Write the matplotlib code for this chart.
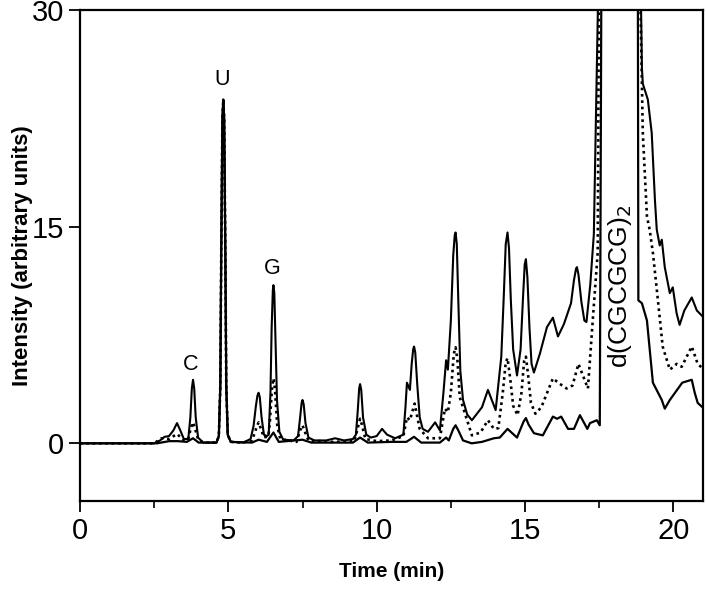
import numpy as np
import matplotlib
matplotlib.use("Agg")
import matplotlib.pyplot as plt
from matplotlib.ticker import MultipleLocator

nan = np.nan

# upper solid trace
t_upper = [0, 2.5, 2.7, 2.85, 3.0, 3.15, 3.27, 3.38, 3.5, 3.65, 3.72, 3.77, 3.81, 3.85, 3.9, 3.98,
           4.15, 4.6, 4.68, 4.73, 4.76, 4.8, 4.83, 4.86, 4.9, 4.93, 4.98, 5.08, 5.5, 5.75, 5.85,
           5.93, 5.98, 6.02, 6.06, 6.12, 6.2, 6.3, 6.36, 6.42, 6.46, 6.5, 6.52, 6.55, 6.59, 6.64,
           6.72, 6.85, 7.2, 7.35, 7.42, 7.47, 7.5, 7.54, 7.6, 7.7, 7.9, 8.3, 8.6, 8.9, 9.2, 9.3,
           9.36, 9.41, 9.44, 9.48, 9.54, 9.65, 9.8, 10.0, 10.18, 10.35, 10.62, 10.9, 10.97, 11.02,
           11.12, 11.18, 11.23, 11.26, 11.3, 11.37, 11.45, 11.55, 11.73, 11.97, 12.13, 12.25,
           12.34, 12.4, 12.5, 12.58, 12.63, 12.66, 12.7, 12.75, 12.82, 12.91, 13.05, 13.21, 13.55,
           13.75, 14.01, 14.2, 14.28, 14.35, 14.41, 14.46, 14.52, 14.6, 14.73, 14.85, 14.93, 14.99,
           15.03, 15.08, 15.15, 15.22, 15.3, 15.5, 15.74, 15.94, 16.11, 16.31, 16.55, 16.65, 16.72,
           16.75, 16.8, 16.9, 17.0, 17.07, 17.2, 17.32, 17.46, 17.5, nan,
           18.87, 18.94, 18.97, 19.14, 19.27, 19.38, 19.44, 19.54, 19.61, 19.71, 19.88, 19.98,
           20.11, 20.21, 20.37, 20.62, 20.79, 20.98]
i_upper = [0, 0, 0.2, 0.45, 0.5, 0.9, 1.4, 0.9, 0.3, 0.3, 1.8, 3.8, 4.4, 3.8, 1.8, 0.4,
           0.05, 0.05, 0.5, 4.0, 13.0, 22.5, 23.8, 22.5, 13.0, 4.0, 0.6, 0.1, 0.05, 0.3, 1.2,
           2.6, 3.3, 3.5, 3.2, 1.8, 0.6, 0.5, 0.6, 3.5, 8.0, 10.6, 10.95, 10.4, 7.0, 3.0,
           0.8, 0.25, 0.2, 0.5, 1.8, 2.8, 3.0, 2.7, 1.4, 0.4, 0.2, 0.2, 0.35, 0.2, 0.3, 0.6,
           2.2, 3.8, 4.1, 3.7, 1.8, 0.6, 0.4, 0.5, 1.0, 0.6, 0.35, 0.6, 2.5, 4.2,
           3.7, 5.5, 6.5, 6.7, 6.3, 4.0, 1.8, 1.0, 0.8, 1.45, 0.9, 3.5,
           5.75, 5.1, 8.5, 13.0, 14.4, 14.6, 13.8, 10.0, 5.0, 3.0, 2.0, 1.6, 2.5,
           3.7, 2.3, 6.0, 10.0, 13.8, 14.6, 13.5, 10.0, 6.5, 4.7, 6.5, 10.0, 12.4,
           12.75, 11.5, 8.0, 5.5, 4.9, 6.2, 8.05, 8.7, 7.4, 8.25, 9.7, 11.3, 12.1,
           12.2, 11.7, 9.8, 8.5, 8.4, 11.0, 14.5, 30.5, 36, nan,
           36, 26, 24.9, 23.8, 21.5, 16.8, 14.8, 13.7, 14.1, 12.2, 10.4, 10.8,
           9.0, 8.2, 9.2, 10.1, 9.2, 8.8]

# middle dotted trace
t_mid = [0, 2.5, 2.75, 3.0, 3.27, 3.5, 3.65, 3.74, 3.81, 3.88, 3.98, 4.15, 4.6, 4.68, 4.73,
         4.76, 4.8, 4.83, 4.86, 4.9, 4.93, 4.98, 5.08, 5.5, 5.8, 5.95, 6.02, 6.1, 6.2, 6.35,
         6.4, 6.47, 6.52, 6.57, 6.65, 6.75, 7.3, 7.42, 7.5, 7.58, 7.7, 8.5, 9.25, 9.38, 9.44,
         9.5, 9.62, 10.0, 10.5, 10.9, 11.02, 11.12, 11.28, 11.45, 11.73, 12.13, 12.3, 12.4,
         12.5, 12.6, 12.66, 12.72, 12.8, 13.21, 13.5, 13.75, 13.95, 14.1, 14.25, 14.35, 14.41,
         14.5, 14.6, 14.75, 14.88, 14.97, 15.03, 15.1, 15.2, 15.35, 15.55, 15.94, 16.15, 16.4,
         16.6, 16.8, 17.12, 17.3, 17.45, 17.5, nan,
         18.84, 18.97, 19.11, 19.2, 19.31, 19.48, 19.64, 19.88, 20.11, 20.28, 20.62, 20.82, 20.98]
i_mid = [0, 0, 0.35, 0.3, 0.65, 0.2, 0.3, 1.1, 1.45, 1.0, 0.3, 0.05, 0.05, 0.5, 4.0,
         13.0, 22.5, 23.8, 22.5, 13.0, 4.0, 0.6, 0.1, 0.05, 0.2, 1.1, 1.45, 1.0, 0.4, 0.5,
         1.5, 3.8, 4.5, 3.8, 1.2, 0.3, 0.1, 0.9, 1.25, 0.8, 0.2, 0.1, 0.15, 1.2, 1.7,
         1.3, 0.3, 0.15, 0.2, 0.5, 1.8, 1.6, 2.75, 1.0, 0.35, 0.35, 2.4, 2.15,
         3.5, 6.2, 6.65, 5.8, 3.2, 0.55, 0.75, 1.6, 1.0, 1.05, 3.5, 5.6, 5.9,
         4.5, 2.6, 1.95, 3.5, 5.7, 6.0, 4.8, 2.8, 2.05, 2.5, 4.5, 4.15, 3.8,
         4.0, 5.5, 3.8, 9.0, 13.2, 36, nan,
         36, 21.5, 15.7, 14.8, 13.2, 9.9, 6.7, 5.1, 5.5, 5.3, 6.7, 5.5, 5.2]

# lower solid trace
t_lower = [0, 2.6, 3.0, 3.3, 3.6, 3.81, 4.0, 4.6, 4.68, 4.73, 4.76, 4.8, 4.83, 4.86, 4.9,
           4.93, 4.98, 5.08, 5.8, 6.02, 6.3, 6.52, 6.7, 7.5, 7.8, 9.2, 9.44, 9.7, 10.5, 11.0,
           11.26, 11.5, 12.13, 12.34, 12.43, 12.58, 12.66, 12.75, 12.91, 13.2, 13.55, 13.95, 14.15,
           14.41, 14.73, 14.95, 15.03, 15.12, 15.3, 15.6, 15.94, 16.08, 16.22, 16.45, 16.65, 16.85,
           17.1, 17.19, 17.42, 17.52, 17.58, nan,
           18.8, 18.82, 18.94, 19.11, 19.31, 19.61, 19.71, 19.88, 20.3, 20.62, 20.72, 20.82, 20.98]
i_lower = [0, 0, 0.15, 0.15, 0.1, 0.35, 0.05, 0.05, 0.5, 4.0, 13.0, 22.5, 23.8, 22.5, 13.0,
           4.0, 0.6, 0.1, 0.05, 0.25, 0.1, 0.75, 0.1, 0.25, 0.05, 0.05, 0.4, 0.05, 0.1, 0.1,
           0.45, 0.05, 0.05, 0.4, 0.2, 1.0, 1.25, 0.9, 0.2, 0.0, 0.1, 0.35, 0.4,
           1.0, 0.4, 1.5, 1.75, 1.3, 0.7, 0.55, 1.85, 1.7, 1.85, 1.0, 1.0, 1.95,
           1.0, 1.4, 1.6, 1.25, 36, nan,
           36, 9.9, 9.7, 8.5, 4.2, 3.0, 2.4, 3.0, 4.2, 4.4, 3.5, 2.8, 2.5]

peak_labels = ["C", "U", "G"]
peak_pos = [(3.72, 4.7), (4.79, 24.5), (6.48, 11.4)]

plt.rcParams["font.family"] = ["Liberation Sans Narrow", "Liberation Sans", "DejaVu Sans"]

fig = plt.figure(figsize=(7.06, 5.93), dpi=100)
ax = fig.add_axes([0.1133, 0.155, 0.8825, 0.828])

ax.plot(t_upper, i_upper, color="black", lw=1.5)
ax.plot(t_mid, i_mid, color="black", lw=1.9, ls=(0, (1, 1.4)))
ax.plot(t_lower, i_lower, color="black", lw=1.6)

for lab, (x, y) in zip(peak_labels, peak_pos):
    ax.text(x, y, lab, fontsize=15.5, ha="center", va="bottom")
ax.text(18.2, 10.9, "d(CGCGCG)$_2$", fontsize=19, rotation=90, ha="center", va="center")

ax.set_xlim(0, 21)
ax.set_ylim(-4, 30)
ax.set_xticks([0, 5, 10, 15, 20])
ax.xaxis.set_minor_locator(MultipleLocator(2.5))
ax.set_yticks([0, 15, 30])
ax.tick_params(axis="both", which="major", direction="out", length=8, width=1.3, labelsize=21)
ax.tick_params(axis="x", which="minor", direction="out", length=5, width=1.2)
for s in ax.spines.values():
    s.set_linewidth(1.6)

ax.set_xlabel("Time (min)", fontsize=15, fontweight="bold", labelpad=12)
ax.set_ylabel("Intensity (arbitrary units)", fontsize=16, fontweight="bold", labelpad=-1)

fig.savefig("out.png", dpi=100)
